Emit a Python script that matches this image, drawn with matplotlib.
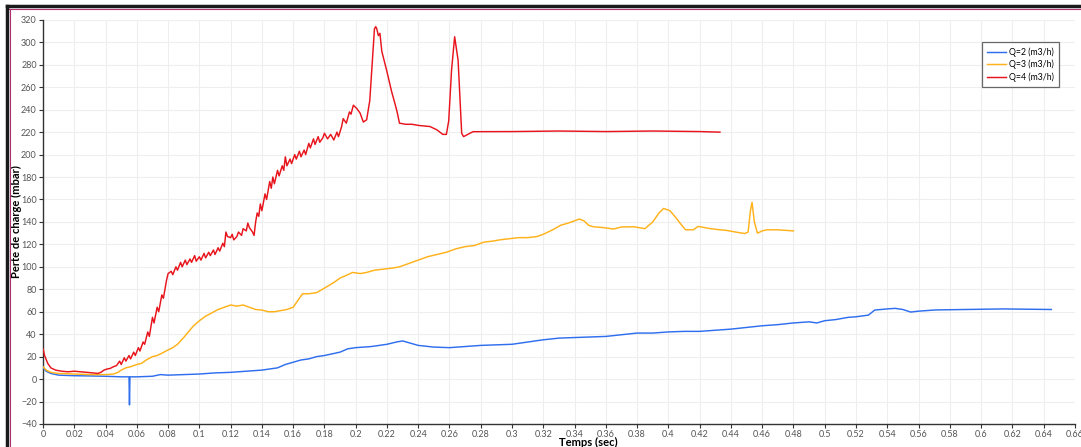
import matplotlib
matplotlib.use("Agg")
import matplotlib.pyplot as plt
from matplotlib.lines import Line2D

# --- pressure-drop measurements (mbar) versus time (s) ---
t_q2 = [0.000, 0.002, 0.005, 0.010, 0.020, 0.030, 0.040, 0.050, 0.0550, 0.0553, 0.0556,
        0.060, 0.070, 0.075, 0.080, 0.090, 0.100, 0.110, 0.120, 0.130, 0.140, 0.145,
        0.150, 0.155, 0.160, 0.165, 0.170, 0.175, 0.180, 0.190, 0.195, 0.200, 0.210,
        0.220, 0.226, 0.230, 0.235, 0.240, 0.250, 0.260, 0.270, 0.280, 0.290, 0.300,
        0.310, 0.320, 0.330, 0.340, 0.350, 0.360, 0.370, 0.380, 0.390, 0.400, 0.410,
        0.420, 0.430, 0.440, 0.450, 0.460, 0.470, 0.480, 0.490, 0.495, 0.500, 0.507,
        0.515, 0.520, 0.528, 0.532, 0.540, 0.545, 0.550, 0.555, 0.560, 0.571, 0.590,
        0.614, 0.645]
p_q2 = [10, 7, 5, 3.5, 3, 2.8, 2.5, 2, 2, -23, 2,
        2, 2.5, 4, 3.5, 4, 4.5, 5.5, 6, 7, 8, 9,
        10, 13, 15, 17, 18, 20, 21, 24, 27, 28, 29,
        31, 33, 34, 32, 30, 28.5, 28, 29, 30, 30.5, 31,
        33, 35, 36.5, 37, 37.5, 38, 39.5, 41, 41, 42, 42.5,
        42.5, 43.5, 44.5, 46, 47.5, 48.5, 50, 51, 50, 52, 53,
        55, 55.5, 57, 61.5, 62.5, 63, 62, 59.7, 60.5, 61.6, 62,
        62.5, 62]

t_q3 = [0.000, 0.002, 0.005, 0.010, 0.020, 0.030, 0.040, 0.045, 0.048, 0.050, 0.053,
        0.056, 0.060, 0.063, 0.066, 0.070, 0.073, 0.076, 0.080, 0.083, 0.086, 0.090,
        0.093, 0.096, 0.100, 0.104, 0.108, 0.112, 0.116, 0.120, 0.124, 0.128, 0.132,
        0.136, 0.140, 0.144, 0.148, 0.152, 0.156, 0.160, 0.163, 0.166, 0.170, 0.175,
        0.180, 0.186, 0.190, 0.195, 0.198, 0.203, 0.207, 0.212, 0.218, 0.224, 0.228,
        0.234, 0.240, 0.246, 0.252, 0.258, 0.264, 0.270, 0.276, 0.282, 0.288, 0.292,
        0.298, 0.304, 0.310, 0.316, 0.320, 0.326, 0.331, 0.336, 0.340, 0.343, 0.346,
        0.349, 0.352, 0.358, 0.365, 0.370, 0.378, 0.385, 0.390, 0.394, 0.397, 0.401,
        0.405, 0.408, 0.411, 0.416, 0.419, 0.423, 0.427, 0.433, 0.437, 0.441, 0.445,
        0.449, 0.451, 0.4525, 0.4535, 0.455, 0.457, 0.460, 0.463, 0.470, 0.480]
p_q3 = [11, 8, 6, 5, 4.5, 4, 4, 4.5, 6, 8, 10,
        11, 13, 14, 17, 20, 21, 23, 26, 28, 31, 37,
        42, 47, 52, 56, 59, 62, 64, 66, 65, 66, 64,
        62, 61.5, 60, 60, 61, 62, 64, 70, 76, 76, 77,
        81, 86, 90, 93, 95, 94, 95, 97, 98, 99, 100,
        103, 106, 109, 111, 113, 116, 118, 119, 122, 123, 124,
        125, 126, 126, 127, 129, 133, 137, 139, 141, 142.6, 141,
        137, 135.7, 135, 133.7, 135.5, 135.7, 134, 140, 148, 152, 150,
        143.5, 138, 133, 133, 136, 135, 134, 133, 132.5, 131.5, 130.5,
        129.7, 131, 150, 157.5, 140, 130, 132, 133, 133, 132]

t_q4 = [0.000, 0.001, 0.003, 0.005, 0.008, 0.012, 0.016, 0.020, 0.024, 0.028, 0.032,
        0.035, 0.037, 0.039, 0.041, 0.043, 0.045, 0.047, 0.049, 0.050, 0.052, 0.053,
        0.055, 0.056, 0.058, 0.059, 0.061, 0.062, 0.064, 0.065, 0.067, 0.068, 0.070,
        0.071, 0.073, 0.074, 0.076, 0.077, 0.079, 0.080, 0.082, 0.083, 0.085, 0.086,
        0.088, 0.089, 0.091, 0.092, 0.094, 0.095, 0.097, 0.098, 0.100, 0.101, 0.103,
        0.104, 0.106, 0.107, 0.109, 0.110, 0.112, 0.113, 0.115, 0.116, 0.117, 0.118,
        0.120, 0.121, 0.122, 0.124, 0.125, 0.127, 0.128, 0.130, 0.131, 0.132, 0.134,
        0.135, 0.136, 0.137, 0.138, 0.139, 0.140, 0.142, 0.143, 0.145, 0.146, 0.147,
        0.148, 0.150, 0.151, 0.153, 0.154, 0.155, 0.156, 0.158, 0.159, 0.161, 0.162,
        0.164, 0.165, 0.167, 0.168, 0.170, 0.171, 0.173, 0.174, 0.176, 0.177, 0.179,
        0.180, 0.182, 0.184, 0.186, 0.188, 0.189, 0.191, 0.192, 0.194, 0.196, 0.197,
        0.1985, 0.2007, 0.2028, 0.2049, 0.207, 0.209, 0.2107, 0.212, 0.2128, 0.2135,
        0.2145, 0.2155, 0.2167, 0.2198, 0.223, 0.225, 0.2265, 0.228, 0.232, 0.236,
        0.240, 0.2475, 0.252, 0.2557, 0.258, 0.2595, 0.2613, 0.2633, 0.2655, 0.2678,
        0.269, 0.275, 0.300, 0.330, 0.360, 0.390, 0.420, 0.433]
p_q4 = [27, 21, 14, 10, 8, 7, 6.5, 7, 6.5, 6, 5.5,
        5, 6, 8, 9, 9.5, 11, 12, 16, 13, 19, 16,
        21, 18, 24, 21, 28, 25, 33, 31, 42, 38, 55,
        50, 64, 60, 75, 72, 88, 94, 96, 93, 100, 97,
        104, 100, 106, 102, 107, 104, 110, 105, 109, 106, 112,
        108, 113, 110, 115, 111, 117, 114, 121, 118, 131, 127,
        126, 129, 124, 127, 131, 128, 134, 132, 139, 135, 131,
        128, 140, 148, 145, 156, 150, 165, 160, 176, 170, 180,
        174, 186, 181, 190, 186, 198, 190, 196, 192, 200, 196,
        203, 198, 204, 200, 210, 206, 214, 209, 216, 211, 215,
        219, 214, 218, 213, 220, 216, 225, 232, 228, 238, 236,
        244, 241, 237, 229, 231, 248, 284, 312, 314, 312,
        306, 308, 292, 275, 256, 246, 238, 228, 227, 227,
        226, 225, 222, 218, 218, 230, 275, 305, 284, 219,
        216, 220.4, 220.5, 221, 220.5, 221, 220.5, 220]

series_labels = ["Q=2 (m3/h)", "Q=3 (m3/h)", "Q=4 (m3/h)"]
series_colors = ["#2f6fef", "#ffb21a", "#e8141c"]

x_ticks = [round(0.02 * i, 2) for i in range(34)]
y_ticks = list(range(-40, 321, 20))

plt.rcParams["font.family"] = ["Lato", "DejaVu Sans"]

fig = plt.figure(figsize=(10.81, 4.47), dpi=100)
ax = fig.add_axes([0.0398, 0.0515, 0.9545, 0.904])

for t, p, lab, col in zip([t_q2, t_q3, t_q4], [p_q2, p_q3, p_q4],
                          series_labels, series_colors):
    ax.plot(t, p, color=col, lw=1.05, label=lab, zorder=3)

ax.set_xlim(0, 0.66)
ax.set_ylim(-40, 320)
ax.set_xticks(x_ticks)
ax.set_xticklabels([("%g" % v) for v in x_ticks])
ax.set_yticks(y_ticks)
ax.grid(True, color="#eeeeee", lw=0.8, zorder=0)
ax.tick_params(labelsize=6.5, colors="#555555", length=3, width=0.8, pad=1.5)
ax.tick_params(axis="both", color="#333333")
for s in ["top", "right"]:
    ax.spines[s].set_visible(False)
for s in ["left", "bottom"]:
    ax.spines[s].set_color("#333333")
    ax.spines[s].set_linewidth(1.0)

ax.set_xlabel("Temps (sec)", fontsize=8, fontweight="bold")
ax.xaxis.set_label_coords(0.528, -0.033)
ax.set_ylabel("Perte de charge (mbar)", fontsize=8, fontweight="bold")
ax.yaxis.set_label_coords(-0.0205, 0.5)

leg = ax.legend(loc="upper right", bbox_to_anchor=(0.989, 0.955), fontsize=6.3,
                frameon=True, fancybox=False, handlelength=2.2, handletextpad=0.4,
                borderpad=0.55, labelspacing=0.35)
leg.get_frame().set_edgecolor("#444444")
leg.get_frame().set_linewidth(0.9)

# window frame along the top and left edges
W, H = 1081, 447
fig.add_artist(Line2D([7 / W, 1], [1 - 6 / H, 1 - 6 / H], color="#1a1a1a", lw=2.5,
                      transform=fig.transFigure))
fig.add_artist(Line2D([7 / W, 1], [1 - 8.5 / H, 1 - 8.5 / H], color="#b03070", lw=0.8,
                      transform=fig.transFigure))
fig.add_artist(Line2D([7 / W, 7 / W], [0, 1 - 6 / H], color="#1a1a1a", lw=2.5,
                      transform=fig.transFigure))
fig.add_artist(Line2D([9.5 / W, 9.5 / W], [0, 1 - 8.5 / H], color="#b03070", lw=0.8,
                      transform=fig.transFigure))

fig.savefig("out.png", dpi=100)
